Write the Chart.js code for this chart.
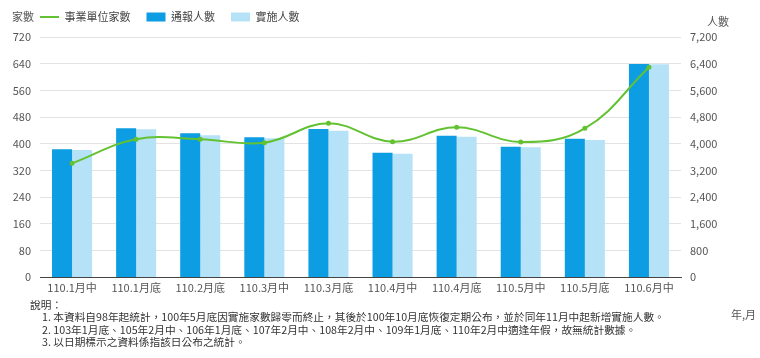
<!DOCTYPE html>
<html>
<head>
<meta charset="utf-8">
<script src="https://cdn.jsdelivr.net/npm/chart.js@4/dist/chart.umd.min.js"></script>
<style>
  body { margin: 0; background: #fff; }
  #wrap { position: relative; width: 760px; height: 358px; font-family: "Noto Sans CJK TC", sans-serif; }
  #chart { position: absolute; left: 0; top: 0; }
  .lbl { position: absolute; font-size: 11px; color: #555; white-space: nowrap; line-height: 1; }
  #notes { position: absolute; left: 30px; top: 299px; font-size: 10.7px; color: #333; line-height: 12.4px; white-space: nowrap; }
  #notes div.item { padding-left: 12px; }
</style>
</head>
<body>
<div id="wrap">
  <canvas id="chart" width="760" height="358"></canvas>
  <div class="lbl" style="left:12px; top:11px;">家數</div>
  <div class="lbl" style="left:707px; top:16px;">人數</div>
  <div class="lbl" style="left:731px; top:309px;">年,月</div>
  <div id="notes">
    <div>說明：</div>
    <div class="item">1. 本資料自98年起統計，100年5月底因實施家數歸零而終止，其後於100年10月底恢復定期公布，並於同年11月中起新增實施人數。</div>
    <div class="item">2. 103年1月底、105年2月中、106年1月底、107年2月中、108年2月中、109年1月底、110年2月中適逢年假，故無統計數據。</div>
    <div class="item">3. 以日期標示之資料係指該日公布之統計。</div>
  </div>
</div>
<script>
const labels = ["110.1月中", "110.1月底", "110.2月底", "110.3月中", "110.3月底", "110.4月中", "110.4月底", "110.5月中", "110.5月底", "110.6月中"];
const units = [341, 413, 413, 403, 461, 406, 449, 405, 446, 629];
const reported = [3830, 4460, 4310, 4190, 4440, 3730, 4240, 3910, 4150, 6390];
const implemented = [3810, 4430, 4250, 4160, 4390, 3700, 4210, 3890, 4110, 6380];

Chart.defaults.font.family = '"Noto Sans CJK TC", sans-serif';
Chart.defaults.font.size = 11;
Chart.defaults.color = "#555";

// move the legend so it sits right of the 家數 title
const legendShift = {
  id: "legendShift",
  afterLayout(chart) {
    chart.legend.left = 24;
    chart.legend.top = -4.5;
  }
};

new Chart(document.getElementById("chart"), {
  type: "bar",
  data: {
    labels: labels,
    datasets: [{
      type: "line",
      label: "事業單位家數",
      data: units,
      yAxisID: "y",
      borderColor: "#63c232",
      backgroundColor: "#63c232",
      borderWidth: 2,
      pointRadius: 1.5,
      tension: 0.4,
      order: 0
    }, {
      label: "通報人數",
      data: reported,
      yAxisID: "y1",
      backgroundColor: "#0c9de2",
      categoryPercentage: 0.625,
      barPercentage: 1,
      order: 1
    }, {
      label: "實施人數",
      data: implemented,
      yAxisID: "y1",
      backgroundColor: "#b6e2f8",
      categoryPercentage: 0.625,
      barPercentage: 1,
      order: 2
    }]
  },
  options: {
    responsive: false,
    animation: false,
    layout: { padding: { left: 0, right: 0, top: 0, bottom: 61 } },
    plugins: {
      tooltip: { enabled: false },
      legend: {
        position: "top",
        align: "start",
        labels: {
          color: "#444",
          padding: 16,
          usePointStyle: true,
          pointStyleWidth: 19,
          boxHeight: 9,
          generateLabels(chart) {
            const items = Chart.defaults.plugins.legend.labels.generateLabels(chart);
            items.forEach((item, i) => {
              item.pointStyle = i === 0 ? "line" : "rect";
            });
            return items;
          }
        }
      }
    },
    scales: {
      x: {
        grid: { display: false, drawTicks: false },
        border: { display: true, color: "#444", width: 1 },
        ticks: { padding: 4, color: "#555", maxRotation: 0, autoSkip: false },
        afterFit(scale) { scale.height = 20; }
      },
      y: {
        position: "left",
        min: 0,
        max: 720,
        ticks: { stepSize: 80, padding: 9, color: "#555" },
        grid: { color: "#e3e3e3", drawTicks: false },
        border: { display: false },
        afterFit(scale) { scale.width = 40; }
      },
      y1: {
        position: "right",
        min: 0,
        max: 7200,
        ticks: { stepSize: 800, padding: 9, color: "#555" },
        grid: { display: false, drawTicks: false },
        border: { display: false },
        afterFit(scale) { scale.width = 79; }
      }
    }
  },
  plugins: [legendShift]
});
</script>
</body>
</html>
